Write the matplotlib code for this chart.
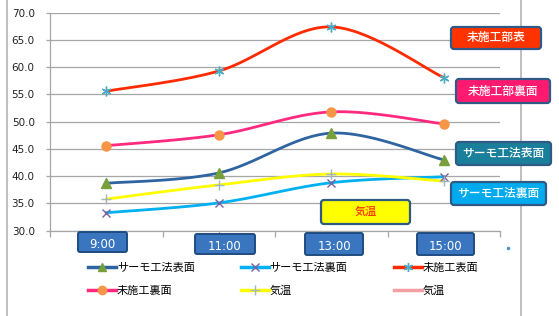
import numpy as np
import matplotlib
matplotlib.use('Agg')
import matplotlib.pyplot as plt
from matplotlib.lines import Line2D
from matplotlib.patches import FancyBboxPatch
from matplotlib.transforms import Affine2D

plt.rcParams['font.family'] = ['Noto Sans CJK JP', 'DejaVu Sans']

# data
times = ['9:00', '11:00', '13:00', '15:00']
thermo_front = [38.7, 40.6, 47.9, 43.0]    # サーモ工法表面
thermo_back = [33.3, 35.1, 38.8, 39.9]     # サーモ工法裏面
untreated_front = [55.6, 59.3, 67.4, 58.1]  # 未施工表面
untreated_back = [45.6, 47.6, 51.8, 49.6]   # 未施工裏面
air_temp = [35.8, 38.4, 40.4, 39.1]        # 気温

W, H = 559, 316
fig = plt.figure(figsize=(W / 100, H / 100), dpi=100)
px = Affine2D().scale(1 / 100) + fig.dpi_scale_trans  # pixel coords, origin bottom-left


def fx(x):
    return x / W


def fy(y):
    return 1 - y / H


ax = fig.add_axes([fx(50), fy(230.7), fx(500) - fx(50), fy(12.7) - fy(230.7)])
xs = np.arange(len(times)) + 0.5
ax.set_xlim(0, len(times))
ax.set_ylim(30, 70)


def smooth(xv, yv, n=40):
    # Excel-like smoothed line (bezier through points) in display space
    pts = ax.transData.transform(np.column_stack([xv, yv]))
    out = []
    for i in range(len(pts) - 1):
        p0 = pts[max(i - 1, 0)]
        p1, p2 = pts[i], pts[i + 1]
        p3 = pts[min(i + 2, len(pts) - 1)]
        c1 = p1 + (p2 - p0) / 6
        c2 = p2 - (p3 - p1) / 6
        t = np.linspace(0, 1, n)[:, None]
        seg = (1 - t) ** 3 * p1 + 3 * (1 - t) ** 2 * t * c1 + 3 * (1 - t) * t ** 2 * c2 + t ** 3 * p2
        out.append(seg if i == 0 else seg[1:])
    return ax.transData.inverted().transform(np.vstack(out))


series = [
    (thermo_front, '#2e64a0', '^', '#77a03c', 6.5, 'サーモ工法表面'),
    (thermo_back, '#00b0f0', 'x', '#7b5fa0', 6, 'サーモ工法裏面'),
    (untreated_front, '#ff2a00', (6, 2, 0), '#4bacc6', 7, '未施工表面'),
    (untreated_back, '#ff2a7f', 'o', '#f79646', 6.5, '未施工裏面'),
    (air_temp, '#ffff00', '+', '#a0b4c8', 7, '気温'),
]

handles = []
for vals, lc, mk, mc, ms, name in series:
    curve = smooth(xs, vals)
    ax.plot(curve[:, 0], curve[:, 1], color=lc, lw=2, zorder=3)
    ax.plot(xs, vals, ls='none', marker=mk, ms=ms, color=mc, mec=mc, mew=1, zorder=4)
    handles.append(Line2D([], [], color=lc, lw=2.5, marker=mk, ms=ms - 0.5, mfc=mc, mec=mc, mew=1))
handles.append(Line2D([], [], color='#f4a0a0', lw=2.5))
labels = [s[5] for s in series] + ['気温']

# grid and axes styling
ax.set_yticks(np.arange(30, 71, 5))
ax.set_yticklabels(['%.1f' % v for v in np.arange(30, 71, 5)], family='DejaVu Sans', fontsize=7.5, color='#222222')
ax.yaxis.grid(True, color='#a6a6a6', lw=0.9)
ax.set_axisbelow(True)
ax.set_xticks(np.arange(0, len(times) + 1))
ax.set_xticks(xs, minor=True)
ax.set_xticklabels([])
ax.tick_params(axis='x', which='both', length=4, color='#a6a6a6', width=0.9)
ax.tick_params(axis='y', length=3, color='#a6a6a6', width=0.9, pad=8)
for s in ['top', 'right']:
    ax.spines[s].set_visible(False)
for s in ['left', 'bottom']:
    ax.spines[s].set_color('#a6a6a6')
    ax.spines[s].set_linewidth(0.9)

# outer chart frame (left / right edges)
fig.add_artist(Line2D([fx(6.5), fx(6.5)], [0, 1], color='#b4b4b4', lw=1.2))
fig.add_artist(Line2D([fx(521), fx(521)], [0, 1], color='#b4b4b4', lw=1.2))


def label_box(x0, x1, y0, y1, text, fc, tc='white', ec='#2f5a86', size=8.5, dy=0):
    fig.add_artist(FancyBboxPatch((x0, H - y1), x1 - x0, y1 - y0, transform=px,
                                  boxstyle='round,pad=0,rounding_size=3',
                                  fc=fc, ec=ec, lw=1.6, zorder=5))
    fig.text(fx((x0 + x1) / 2), fy((y0 + y1) / 2 + dy), text, color=tc, fontsize=size,
             ha='center', va='center', fontweight='medium', zorder=6)


label_box(451, 541, 27, 49, '未施工部表', '#ff3300')
label_box(456, 550, 79, 103, '未施工部裏面', '#ff1a70')
label_box(456, 551, 142, 165, 'サーモ工法表面', '#1a7f9a')
label_box(451, 546, 182, 205, 'サーモ工法裏面', '#00aaee')
label_box(321, 410, 200, 224, '気温', '#ffff00', tc='#ff3300', size=8)

# x tick labels in blue boxes
tick_boxes = [(78, 127, 232, 252), (195, 255, 234, 254), (305, 363, 233, 255), (417, 474, 233, 255)]
for (x0, x1, y0, y1), t in zip(tick_boxes, times):
    fig.add_artist(FancyBboxPatch((x0, H - y1), x1 - x0, y1 - y0, transform=px,
                                  boxstyle='round,pad=0,rounding_size=2',
                                  fc='#3a75bf', ec='#204c80', lw=1.4, zorder=5))
    fig.text(fx((x0 + x1) / 2), fy((y0 + y1) / 2 + 2), t, color='white', fontsize=8.5,
             family='DejaVu Sans', ha='center', va='center', zorder=6)

fig.add_artist(Line2D([fx(508)], [fy(248)], ls='none', marker='o', ms=1.5, color='#4a90d0'))

# legend is filled column by column, so reorder to read row by row
order = [0, 3, 1, 4, 2, 5]
fig.legend([handles[i] for i in order], [labels[i] for i in order], ncol=3, loc='upper left',
           bbox_to_anchor=(fx(88), fy(263)), frameon=False, fontsize=8, handlelength=2.5,
           handletextpad=0.1, columnspacing=4.15, labelspacing=1.1, borderpad=0, borderaxespad=0)

fig.savefig('out.png', dpi=100, facecolor='white')
